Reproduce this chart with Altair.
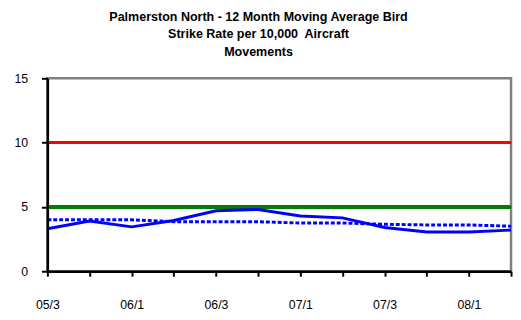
import altair as alt
import pandas as pd

quarters = ["05/3", "05/4", "06/1", "06/2", "06/3", "06/4",
            "07/1", "07/2", "07/3", "07/4", "08/1", "08/2"]
moving_avg = [3.3, 3.9, 3.45, 3.95, 4.7, 4.8, 4.3, 4.15, 3.4, 3.05, 3.05, 3.2]
long_avg = [4.0, 4.0, 4.0, 3.85, 3.85, 3.85, 3.75, 3.75, 3.65, 3.6, 3.6, 3.5]
shown_labels = ["05/3", "06/1", "06/3", "07/1", "07/3", "08/1"]
upper_limit = 10
lower_limit = 5

df = pd.DataFrame({"quarter": quarters, "rate": moving_avg, "avg": long_avg})

label_expr = "indexof([" + ",".join("'%s'" % s for s in shown_labels) + "], datum.value) >= 0 ? datum.value : ''"

x = alt.X("quarter:O", sort=quarters,
          scale=alt.Scale(type="point", padding=0),
          axis=alt.Axis(title=None, labelAngle=0, labelExpr=label_expr,
                        domainColor="black", domainWidth=2.5, tickColor="black",
                        tickWidth=2, tickSize=5, labelPadding=23, labelFontSize=12.5,
                        labelFont="Liberation Sans", labelColor="black", zindex=1))
y_axis = alt.Axis(title=None, values=[0, 5, 10, 15], grid=False,
                  domainColor="black", domainWidth=2.5, tickColor="black",
                  tickWidth=2, tickSize=6, labelPadding=14, labelFontSize=12.5,
                  labelFont="Liberation Sans", labelColor="black", zindex=1)
y_scale = alt.Scale(domain=[0, 15], nice=False)

base = alt.Chart(df)

solid = base.mark_line(color="#0000FF", strokeWidth=3).encode(
    x=x, y=alt.Y("rate:Q", scale=y_scale, axis=y_axis))
dashed = base.mark_line(color="#0000FF", strokeWidth=3, strokeDash=[4, 2]).encode(
    x=x, y=alt.Y("avg:Q", scale=y_scale))
red = base.mark_rule(color="#FF0000", strokeWidth=3).encode(y=alt.datum(upper_limit))
green = base.mark_rule(color="#008000", strokeWidth=3).encode(y=alt.datum(lower_limit))

chart = alt.layer(red, green, dashed, solid).properties(
    width=471, height=196,
    autosize=alt.AutoSizeParams(type="none"),
    padding={"left": 40, "top": 69, "right": 2, "bottom": 40},
    title=alt.TitleParams(
        text=["Palmerston North - 12 Month Moving Average Bird",
              "Strike Rate per 10,000\u00a0 Aircraft", "Movements"],
        font="Liberation Sans", fontSize=12.7, fontWeight="bold", color="black",
        lineHeight=18, anchor="middle", offset=14, dx=-21),
).configure_view(stroke="#808080", strokeWidth=2.5)

chart.save("out.html", embed_options={"renderer": "svg", "actions": False})
